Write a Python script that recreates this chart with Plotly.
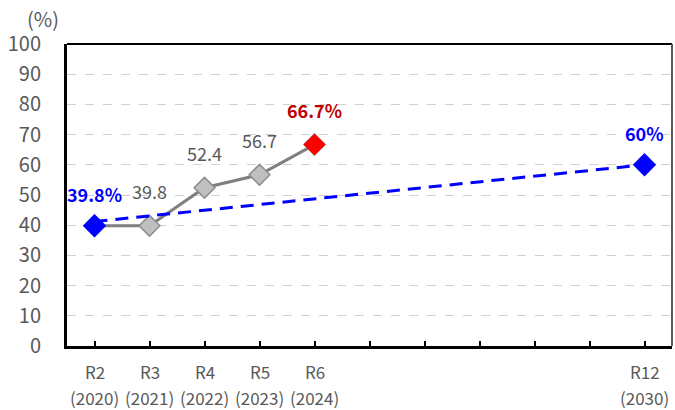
import plotly.graph_objects as go

categories = ["R2", "R3", "R4", "R5", "R6", "R7", "R8", "R9", "R10", "R11", "R12"]
cat_labels = ["R2", "R3", "R4", "R5", "R6", "", "", "", "", "", "R12"]
year_labels = ["(2020)", "(2021)", "(2022)", "(2023)", "(2024)", "", "", "", "", "", "(2030)"]

actual_cats = ["R2", "R3", "R4", "R5", "R6"]
actual_vals = [39.8, 39.8, 52.4, 56.7, 66.7]
actual_text = ["", "39.8", "52.4", "56.7", ""]

target_cats = ["R2", "R12"]
target_line_vals = [41.2, 60]
blue_cats = ["R2", "R12"]
blue_vals = [39.8, 60]
blue_text = ["39.8%", "60%"]
red_cats = ["R6"]
red_vals = [66.7]
red_text = ["66.7%"]

yticks = [0, 10, 20, 30, 40, 50, 60, 70, 80, 90, 100]

FONT = "Noto Sans CJK JP, Noto Sans, sans-serif"
idx = {c: i for i, c in enumerate(categories)}

fig = go.Figure()
fig.add_trace(go.Scatter(
    x=[idx[c] for c in actual_cats], y=actual_vals, mode="lines+markers",
    line=dict(color="#7f7f7f", width=3),
    marker=dict(symbol="diamond", size=16, color="#bfbfbf", line=dict(color="#8c8c8c", width=1.5)),
    hoverinfo="skip", showlegend=False))
fig.add_trace(go.Scatter(
    x=[idx[c] for c in target_cats], y=target_line_vals, mode="lines",
    line=dict(color="#0000ff", width=3, dash="13px,8px"),
    hoverinfo="skip", showlegend=False))
fig.add_trace(go.Scatter(
    x=[idx[c] for c in blue_cats], y=blue_vals, mode="markers",
    marker=dict(symbol="diamond", size=18, color="#0000ff", line=dict(width=0)),
    hoverinfo="skip", showlegend=False))
fig.add_trace(go.Scatter(
    x=[idx[c] for c in red_cats], y=red_vals, mode="markers",
    marker=dict(symbol="diamond", size=17, color="#ff0000", line=dict(width=0)),
    hoverinfo="skip", showlegend=False))

annotations = []
for c, v, t in zip(actual_cats, actual_vals, actual_text):
    if t:
        annotations.append(dict(x=idx[c], y=v, text=t, showarrow=False, yshift=35,
                                font=dict(family=FONT, size=18, color="#595959")))
for c, v, t in zip(blue_cats, blue_vals, blue_text):
    annotations.append(dict(x=idx[c], y=v, text="<b>" + t + "</b>", showarrow=False, yshift=32,
                            font=dict(family=FONT, size=18, color="#0000ff")))
for c, v, t in zip(red_cats, red_vals, red_text):
    annotations.append(dict(x=idx[c], y=v, text="<b>" + t + "</b>", showarrow=False, yshift=35,
                            font=dict(family=FONT, size=18, color="#c00000")))
for i, (a, b) in enumerate(zip(cat_labels, year_labels)):
    if a:
        annotations.append(dict(x=i, xref="x", y=0, yref="paper", text=a, showarrow=False,
                                yanchor="middle", yshift=-25,
                                font=dict(family=FONT, size=17, color="#595959")))
    if b:
        annotations.append(dict(x=i, xref="x", y=0, yref="paper", text=b, showarrow=False,
                                yanchor="middle", yshift=-51,
                                font=dict(family=FONT, size=17, color="#595959")))
annotations.append(dict(x=0, xref="paper", y=1, yref="paper", text="(%)", showarrow=False,
                        xanchor="center", yanchor="middle", xshift=-24, yshift=26,
                        font=dict(family=FONT, size=20, color="#595959")))

fig.update_layout(
    width=675, height=410,
    margin=dict(l=67, r=3, t=44, b=64),
    paper_bgcolor="white", plot_bgcolor="white",
    annotations=annotations,
    shapes=[
        dict(type="line", xref="paper", yref="paper", x0=0, x1=1, y0=1, y1=1,
             line=dict(color="#000000", width=2)),
        dict(type="line", xref="paper", yref="paper", x0=1, x1=1, y0=0, y1=1,
             line=dict(color="#595959", width=2)),
    ],
)
fig.update_xaxes(range=[-0.5, 10.5], tickvals=list(range(len(categories))), showticklabels=False,
                 ticks="inside", ticklen=5, tickwidth=1.5, tickcolor="black",
                 showgrid=False, zeroline=False, showline=True, linecolor="black", linewidth=3)
fig.update_yaxes(range=[0, 100], tickvals=yticks, ticks="", ticklabelstandoff=19,
                 tickfont=dict(family=FONT, size=20, color="#595959"),
                 showgrid=True, gridcolor="#d0d0d0", griddash="dash", gridwidth=1,
                 zeroline=False, showline=True, linecolor="black", linewidth=3)

fig.write_html("out.html", config={"displayModeBar": False},
               post_script="document.body.style.margin='0';")
